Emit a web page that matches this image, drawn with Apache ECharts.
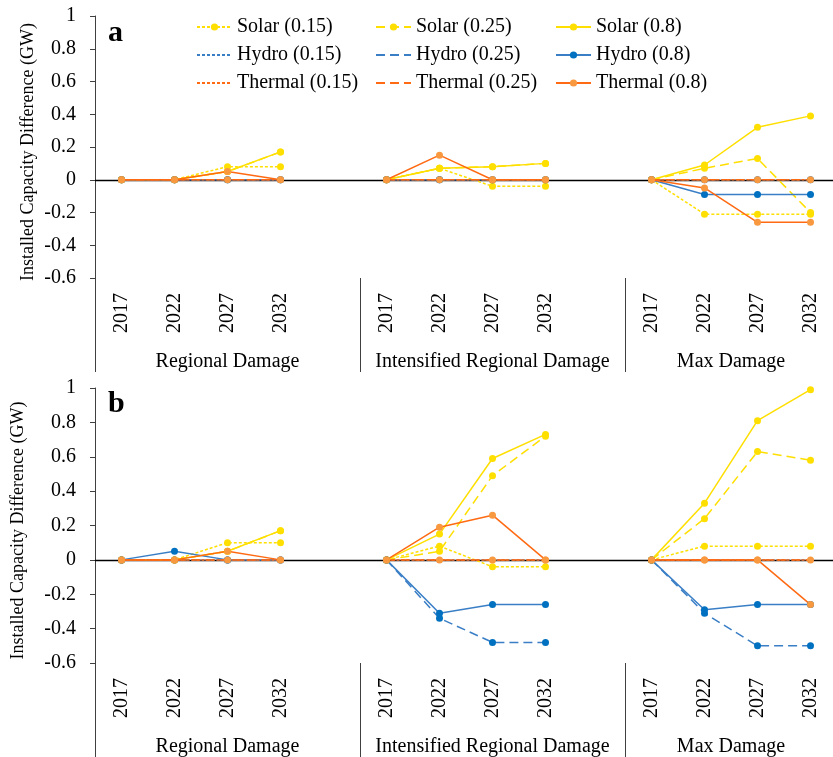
<!DOCTYPE html>
<html><head><meta charset="utf-8">
<script src="https://cdn.jsdelivr.net/npm/echarts@6/dist/echarts.min.js"></script>
<style>html,body{margin:0;padding:0;background:#fff;overflow:hidden}#c{width:840px;height:757px}</style>
</head><body><div id="c"></div>
<script>
// ---- data ----
const years = ['2017', '2022', '2027', '2032'];
const groups = ['Regional Damage', 'Intensified Regional Damage', 'Max Damage'];
const seriesNames = ['Solar (0.15)', 'Solar (0.25)', 'Solar (0.8)',
                     'Hydro (0.15)', 'Hydro (0.25)', 'Hydro (0.8)',
                     'Thermal (0.15)', 'Thermal (0.25)', 'Thermal (0.8)'];
const panelLabels = ['a', 'b'];
const yTitle = 'Installed Capacity Difference (GW)';

// panel a : [Regional, Intensified, Max]
const aSolar015  = [[0, 0, 0.08, 0.08], [0, 0.07, -0.04, -0.04], [0, -0.21, -0.21, -0.21]];
const aSolar025  = [[0, 0, 0.05, 0.17], [0, 0.07, 0.08, 0.10], [0, 0.07, 0.13, -0.20]];
const aSolar08   = [[0, 0, 0.05, 0.17], [0, 0.07, 0.08, 0.10], [0, 0.09, 0.32, 0.39]];
const aHydro015  = [[0, 0, 0, 0], [0, 0, 0, 0], [0, 0, 0, 0]];
const aHydro025  = [[0, 0, 0, 0], [0, 0, 0, 0], [0, 0, 0, 0]];
const aHydro08   = [[0, 0, 0, 0], [0, 0, 0, 0], [0, -0.09, -0.09, -0.09]];
const aThermal015 = [[0, 0, 0, 0], [0, 0, 0, 0], [0, 0, 0, 0]];
const aThermal025 = [[0, 0, 0, 0], [0, 0, 0, 0], [0, 0, 0, 0]];
const aThermal08  = [[0, 0, 0.05, 0], [0, 0.15, 0, 0], [0, -0.05, -0.26, -0.26]];

// panel b
const bSolar015  = [[0, 0, 0.10, 0.10], [0, 0.08, -0.04, -0.04], [0, 0.08, 0.08, 0.08]];
const bSolar025  = [[0, 0, 0.05, 0.17], [0, 0.05, 0.49, 0.72], [0, 0.24, 0.63, 0.58]];
const bSolar08   = [[0, 0, 0.05, 0.17], [0, 0.15, 0.59, 0.73], [0, 0.33, 0.81, 0.99]];
const bHydro015  = [[0, 0, 0, 0], [0, 0, 0, 0], [0, 0, 0, 0]];
const bHydro025  = [[0, 0, 0, 0], [0, -0.34, -0.48, -0.48], [0, -0.31, -0.50, -0.50]];
const bHydro08   = [[0, 0.05, 0, 0], [0, -0.31, -0.26, -0.26], [0, -0.29, -0.26, -0.26]];
const bThermal015 = [[0, 0, 0, 0], [0, 0, 0, 0], [0, 0, 0, 0]];
const bThermal025 = [[0, 0, 0, 0], [0, 0, 0, 0], [0, 0, 0, 0]];
const bThermal08  = [[0, 0, 0.05, 0], [0, 0.19, 0.26, 0], [0, 0, 0, -0.26]];

const panelData = [
  [aSolar015, aSolar025, aSolar08, aHydro015, aHydro025, aHydro08, aThermal015, aThermal025, aThermal08],
  [bSolar015, bSolar025, bSolar08, bHydro015, bHydro025, bHydro08, bThermal015, bThermal025, bThermal08]
];

// ---- styles ----
const FONT = 'Liberation Serif';
const C = {
  solar: { line: '#FFDF00', mark: '#FFDF00' },
  hydro: { line: '#3A7FC6', mark: '#0070C0' },
  thermal: { line: '#FF6A13', mark: '#F8983F' }
};
const DOT = [3, 2], DASH = [9, 5];
const styles = [
  { c: C.solar, t: DOT, sym: true },
  { c: C.solar, t: DASH, sym: true },
  { c: C.solar, t: 'solid', sym: true },
  { c: C.hydro, t: DOT, sym: false, legendNoSym: true },
  { c: C.hydro, t: DASH, sym: true, legendNoSym: true },
  { c: C.hydro, t: 'solid', sym: true },
  { c: C.thermal, t: DOT, sym: false, legendNoSym: true },
  { c: C.thermal, t: DASH, sym: true, legendNoSym: true },
  { c: C.thermal, t: 'solid', sym: true }
];

// categories: each group's years, separated by a blank slot
const cats = [];
const groupStart = [];
const groupSize = [];
groups.forEach((g, i) => {
  groupStart.push(cats.length);
  cats.push(...years);
  if (i < groups.length - 1) cats.push('');
  groupSize.push(cats.length - groupStart[i]);
});
const nSlots = cats.length;
const groupCenter = groupStart.map((s, i) => s + groupSize[i] / 2);

function flatten(vals) {
  const out = [];
  vals.forEach((g, i) => { out.push(...g); if (i < vals.length - 1) out.push(null); });
  return out;
}

const grids = [
  { left: 95, right: 0, top: 16, height: 262 },
  { left: 95, right: 0, top: 388, height: 275 }
];
const nameGaps = [58, 68];

const xAxis = [], yAxis = [], series = [];
[0, 1].forEach(p => {
  xAxis.push({
    type: 'category', gridIndex: p, data: cats, boundaryGap: true, position: 'bottom',
    axisLine: { show: false, onZero: false },
    axisTick: { show: true, length: 94, alignWithLabel: false,
      interval: (idx) => groupStart.indexOf(idx) >= 0,
      lineStyle: { color: '#404040', width: 1 } },
    axisLabel: { interval: 0, rotate: 90, margin: 15, fontSize: 20, fontFamily: FONT, color: '#000' },
    splitLine: { show: false }
  });
  xAxis.push({
    type: 'value', gridIndex: p, min: 0, max: nSlots, interval: 0.5, position: 'bottom',
    axisLine: { show: false, onZero: false }, axisTick: { show: false }, splitLine: { show: false },
    axisLabel: { margin: 74, fontSize: 20, fontFamily: FONT, color: '#000', showMinLabel: true, showMaxLabel: true,
      formatter: v => { const k = groupCenter.indexOf(v); return k >= 0 ? groups[k] : ''; } }
  });
  yAxis.push({
    type: 'value', gridIndex: p, min: -0.6, max: 1, interval: 0.2,
    axisLine: { show: true, onZero: false, lineStyle: { color: '#404040', width: 1 } },
    axisTick: { show: true, length: 5, lineStyle: { color: '#404040' } },
    axisLabel: { margin: 19, fontSize: 20, fontFamily: FONT, color: '#000',
      formatter: v => String(Math.round(v * 10) / 10) },
    splitLine: { show: false },
    name: yTitle, nameLocation: 'middle', nameGap: nameGaps[p], nameMoveOverlap: false,
    nameTextStyle: { fontSize: 18, fontFamily: FONT, color: '#000', padding: [0, 10, 0, 0] }
  });
  seriesNames.forEach((name, s) => {
    const st = styles[s];
    const ser = {
      type: 'line', name, xAxisIndex: p * 2, yAxisIndex: p,
      data: flatten(panelData[p][s]),
      connectNulls: false,
      symbol: st.sym ? 'circle' : 'none', symbolSize: 7, showSymbol: st.sym,
      lineStyle: { color: st.c.line, width: 1.5, type: st.t },
      itemStyle: { color: st.c.mark, borderWidth: 0 },
      emphasis: { disabled: true }, animation: false
    };
    if (s === 0) {
      ser.markLine = {
        silent: true, symbol: 'none', label: { show: false }, animation: false,
        lineStyle: { color: '#000', width: 1.3, type: 'solid' },
        data: [{ yAxis: 0 }], z: 1
      };
    }
    series.push(ser);
  });
});

const legendLeft = [196, 375, 555];
const legend = [0, 1, 2].map(col => ({
  orient: 'vertical', left: legendLeft[col], top: 17, padding: 0, itemGap: 8,
  itemWidth: 35, itemHeight: 9,
  textStyle: { fontSize: 20, fontFamily: FONT, color: '#000' },
  data: [0, 1, 2].map(row => {
    const idx = row * 3 + col;
    const item = { name: seriesNames[idx] };
    if (styles[idx].legendNoSym) item.itemStyle = { opacity: 0 };
    return item;
  })
}));

const title = panelLabels.map((t, p) => ({
  text: t, left: 108, top: [18, 389][p], padding: 0,
  textStyle: { fontFamily: FONT, fontWeight: 'bold', fontSize: 30, color: '#000' }
}));

const chart = echarts.init(document.getElementById('c'), null, { renderer: 'canvas' });
chart.setOption({
  backgroundColor: '#fff', animation: false,
  title, legend, grid: grids, xAxis, yAxis, series
});
</script></body></html>
